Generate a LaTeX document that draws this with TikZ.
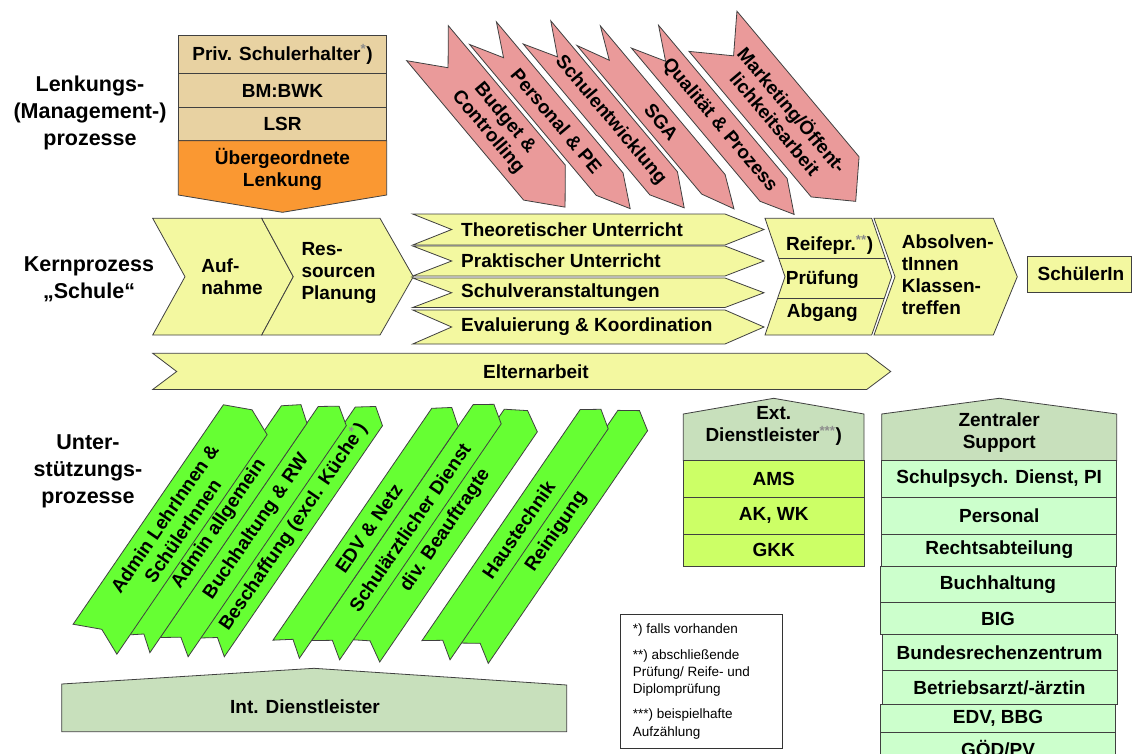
\documentclass[tikz,border=0pt]{standalone}
\usepackage{fontspec}
\setmainfont{Liberation Sans}
\usetikzlibrary{calc}
\definecolor{cTan}{RGB}{232,210,162}
\definecolor{cOrg}{RGB}{250,152,50}
\definecolor{cRed}{RGB}{234,154,154}
\definecolor{cYel}{RGB}{243,248,160}
\definecolor{cGrn}{RGB}{102,255,51}
\definecolor{cLime}{RGB}{204,255,102}
\definecolor{cMint}{RGB}{204,255,204}
\definecolor{cSage}{RGB}{200,224,188}
\newcommand\sups[1]{\textsuperscript{\textcolor{black!45}{#1}}}
\newcommand\mainfs{\fontsize{19}{22}\selectfont\bfseries}
\newcommand\bigfs{\fontsize{21.5}{27}\selectfont\bfseries}
\newcommand\notefs{\fontsize{13.5}{17}\selectfont}
\tikzset{
  shp/.style={draw=black!75, line width=0.8pt, line join=miter},
  lbl/.style={font=\mainfs, align=center, inner sep=0pt},
  side/.style={font=\bigfs, align=center, inner sep=0pt},
  note/.style={font=\notefs, anchor=west, inner sep=0pt},
}
\newcommand\redchev[6]{%
  \begin{scope}[shift={(#1,#2)},rotate=-50]
    \draw[shp,fill=cRed] (0,-#4/2) -- (#3,-#4/2) -- (#3+32,0) -- (#3,#4/2) -- (0,#4/2) -- (32,0) -- cycle;
    \node[lbl,rotate=-50] (#6) at ({(#3+32)/2},0) {#5};
  \end{scope}}
\newcommand\grnchev[6]{%
  \begin{scope}[shift={(#1,#2)},rotate=55.6]
    \draw[shp,fill=cGrn] (0,-#4/2) -- (#3,-#4/2) -- (#3+12,0) -- (#3,#4/2) -- (0,#4/2) -- (12,0) -- cycle;
    \node[lbl,rotate=55.6] (#6) at ({(#3+12)/2},0) {#5};
  \end{scope}}
\begin{document}
\begin{tikzpicture}[x=1pt,y=-1pt]
\fill[white] (0,0) rectangle (1133,753);
\useasboundingbox (0,0) rectangle (1133,753);

% side labels
\node[side] (lLenk) at (90,113) {Lenkungs-\\(Management-)\\prozesse};
\node[side] (lKern) at (89,279) {Kernprozess\\„Schule“};
\node[side] (lUnt) at (88,471) {Unter-\\stützungs-\\prozesse};

% top-left stack
\draw[shp,fill=cTan] (178.3,35) rectangle (386.7,73.3);
\draw[shp,fill=cTan] (178.3,73.3) rectangle (386.7,107.3);
\draw[shp,fill=cTan] (178.3,107.3) rectangle (386.7,140.7);
\draw[shp,fill=cOrg] (178.3,140.7) -- (386.7,140.7) -- (386.7,195) -- (282.5,212.3) -- (178.3,195) -- cycle;
\node[lbl] (priv) at (282.5,54.5) {Priv. Schulerhalter\sups{*})};
\node[lbl] (bm) at (282.5,90.5) {BM:BWK};
\node[lbl] (lsr) at (282.5,124) {LSR};
\node[lbl] (ueber) at (282.5,169) {Übergeordnete\\Lenkung};

% red chevrons
\redchev{713}{31.3}{190}{62.5}{Marketing/Öffent-\\lichkeitsarbeit}{r6}
\redchev{645}{36.7}{200}{35.4}{Qualität \& Prozess}{r5}
\redchev{588.7}{35.7}{194}{30.5}{SGA}{r4}
\redchev{537}{32.4}{197}{36}{Schulentwicklung}{r3}
\redchev{483}{33.2}{197}{35}{Personal \& PE}{r2}
\redchev{427.5}{43.2}{182}{54.4}{Budget \&\\Controlling}{r1}

% Kernprozess
\draw[shp,fill=cYel] (152.7,218.3) -- (261.7,218.3) -- (293.3,276.7) -- (261.7,335) -- (152.7,335) -- (185,276.7) -- cycle;
\draw[shp,fill=cYel] (261.7,218.3) -- (380,218.3) -- (413.3,276.7) -- (380,335) -- (261.7,335) -- (293.3,276.7) -- cycle;
\node[lbl,align=left] (auf) at (232,277) {Auf-\\nahme};
\node[lbl,align=left] (res) at (339,273) {Res-\\sourcen\\Planung};

\foreach \t/\b in {214/245,246/276,278/307.5,310/344}{
  \draw[shp,fill=cYel] (412.7,\t) -- (725,\t) -- (764,{(\t+\b)/2}) -- (725,\b) -- (412.7,\b) -- (451.7,{(\t+\b)/2}) -- cycle;
}
\node[lbl,anchor=west] (theo) at (461,229.5) {Theoretischer Unterricht};
\node[lbl,anchor=west] (prak) at (461,261) {Praktischer Unterricht};
\node[lbl,anchor=west] (schv) at (461,293) {Schulveranstaltungen};
\node[lbl,anchor=west] (eval) at (461,327) {Evaluierung \& Koordination};

\draw[shp,fill=cYel] (765,218.3) -- (871.7,218.3) -- (891.7,276.7) -- (871.7,335) -- (765,335) -- (785,276.7) -- cycle;
\begin{scope}
  \clip (765,218.3) -- (871.7,218.3) -- (891.7,276.7) -- (871.7,335) -- (765,335) -- (785,276.7) -- cycle;
  \draw[shp] (760,258.3) -- (900,258.3);
  \draw[shp] (760,298.3) -- (900,298.3);
\end{scope}
\node[lbl,anchor=west] (reif) at (786,245) {Reifepr.\sups{**})};
\node[lbl,anchor=west] (pruef) at (785.7,279.3) {Prüfung};
\node[lbl,anchor=west] (abg) at (786.7,312.7) {Abgang};

\draw[shp,fill=cYel] (874,218.3) -- (993.3,218.3) -- (1017.3,276.7) -- (993.3,335) -- (874,335) -- (895,276.7) -- cycle;
\node[lbl,align=left] (absol) at (947.7,274.7) {Absolven-\\tInnen\\Klassen-\\treffen};

\draw[shp,fill=cYel] (1027,256) rectangle (1131,292);
\node[lbl] (schuel) at (1081,274) {SchülerIn};

\draw[shp,fill=cYel] (152.7,353.3) -- (866.7,353.3) -- (890.7,371.5) -- (866.7,389.5) -- (152.7,389.5) -- (176.7,371.5) -- cycle;
\node[lbl] (eltern) at (536,371.5) {Elternarbeit};

% green chevrons (drawn right to left, so each lies over its right neighbour)
\grnchev{473.4}{653.2}{282}{36}{Reinigung}{g9}
\grnchev{436}{650.2}{280}{34}{Haustechnik}{g8}
\grnchev{363.2}{650.7}{279}{40}{div. Beauftragte}{g7}
\grnchev{325.6}{650.2}{286}{34}{Schulärztlicher Dienst}{g6}
\grnchev{286.2}{649.2}{281}{32}{EDV \& Netz}{g5}
\grnchev{210.7}{647.4}{280}{33}{Beschaffung (excl. Küche\sups{*})}{g4}
\grnchev{174.1}{647.1}{280}{34}{Buchhaltung \& RW}{g3}
\grnchev{137.1}{643.9}{278}{31}{Admin allgemein}{g2}
\grnchev{95}{639.2}{266}{53}{Admin LehrInnen \&\\SchülerInnen}{g1}

% Int. Dienstleister
\draw[shp,fill=cSage] (61.7,731.7) -- (61.7,684) -- (314,668.3) -- (566.7,685) -- (566.7,731.7) -- cycle;
\node[lbl] (intd) at (305,707) {Int. Dienstleister};

% Ext. Dienstleister
\draw[shp,fill=cSage] (683.3,460.7) -- (683.3,414) -- (773.7,398.3) -- (864,414) -- (864,460.7) -- cycle;
\node[lbl] (extd) at (773.7,426) {Ext.\\Dienstleister\sups{***})};
\draw[shp,fill=cLime] (683.3,460.7) rectangle (864,497.3);
\draw[shp,fill=cLime] (683.3,497.3) rectangle (864,534);
\draw[shp,fill=cLime] (683.3,534) rectangle (864,566);
\node[lbl] (ams) at (773.7,479) {AMS};
\node[lbl] (akwk) at (773.7,515.5) {AK, WK};
\node[lbl] (gkk) at (773.7,550) {GKK};

% Zentraler Support
\draw[shp,fill=cSage] (881.7,460.7) -- (881.7,414) -- (999.2,398.3) -- (1116.7,414) -- (1116.7,460.7) -- cycle;
\node[lbl] (zent) at (999.2,432.5) {Zentraler\\Support};
\draw[shp,fill=cMint] (881.7,460.7) rectangle (1116.7,497.3);
\draw[shp,fill=cMint] (881.7,497.3) rectangle (1116.7,534);
\draw[shp,fill=cMint] (881.7,534) rectangle (1116.7,566);
\draw[shp,fill=cMint] (880.7,566) rectangle (1115,602.7);
\draw[shp,fill=cMint] (880.7,602.7) rectangle (1115,634.3);
\draw[shp,fill=cMint] (882,634.3) rectangle (1117,670.7);
\draw[shp,fill=cMint] (882,670.7) rectangle (1117,704);
\draw[shp,fill=cMint] (880.7,704) rectangle (1115,732.7);
\draw[shp,fill=cMint] (880.7,732.7) rectangle (1115,770);
\node[lbl] (spd) at (999.2,479) {Schulpsych. Dienst, PI};
\node[lbl] (pers) at (999.2,515.5) {Personal};
\node[lbl] (recht) at (999.2,550) {Rechtsabteilung};
\node[lbl] (buch) at (998,584.5) {Buchhaltung};
\node[lbl] (big) at (998,618.5) {BIG};
\node[lbl] (brz) at (999.5,652.5) {Bundesrechenzentrum};
\node[lbl] (barzt) at (999.5,687.5) {Betriebsarzt/-ärztin};
\node[lbl] (edv) at (998,718.5) {EDV, BBG};
\node[lbl] (goed) at (998,749) {GÖD/PV};

% footnotes
\draw[draw=black!80,line width=0.7pt] (620.7,614) rectangle (782.7,748.3);
\node[note] (n1) at (632.7,630) {*) falls vorhanden};
\node[note] (n2) at (632.7,655.7) {**) abschließende};
\node[note] (n3) at (632.7,672.7) {Prüfung/ Reife- und};
\node[note] (n4) at (632.7,690) {Diplomprüfung};
\node[note] (n5) at (632.7,715) {***) beispielhafte};
\node[note] (n6) at (632.7,732.7) {Aufzählung};
\end{tikzpicture}
\end{document}
